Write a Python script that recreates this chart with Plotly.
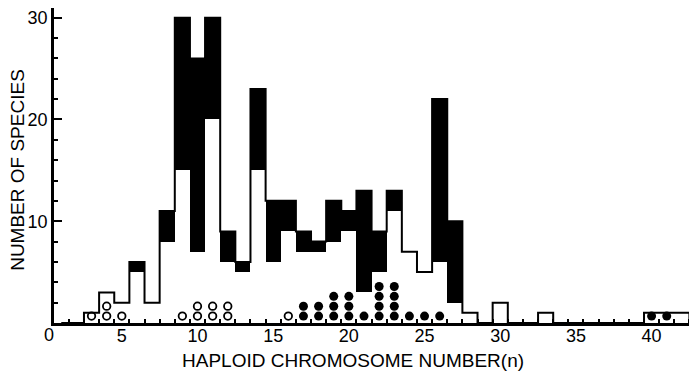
import plotly.graph_objects as go

# Haploid chromosome number bins (n) and species counts
n_values = list(range(1, 44))
# open (white) part of each bar
white_counts = {3: 1, 4: 3, 5: 2, 6: 5, 7: 2, 8: 8, 9: 15, 10: 7, 11: 20, 12: 6,
                13: 5, 14: 15, 15: 6, 16: 9, 17: 7, 18: 7, 19: 8, 20: 9, 21: 3,
                22: 5, 23: 11, 24: 7, 25: 5, 26: 6, 27: 2, 28: 1, 30: 2, 33: 1,
                40: 1, 41: 1, 42: 1}
# black part stacked on top of the open part
black_counts = {6: 1, 8: 3, 9: 15, 10: 19, 11: 10, 12: 3, 13: 1, 14: 8, 15: 6,
                16: 3, 17: 2, 18: 1, 19: 4, 20: 2, 21: 10, 22: 4, 23: 2, 26: 16,
                27: 8}
# symbols below the bars: counts of open and filled circles per n
open_circles = {3: 1, 4: 2, 5: 1, 9: 1, 10: 2, 11: 2, 12: 2, 16: 1}
filled_circles = {17: 2, 18: 2, 19: 3, 20: 3, 21: 1, 22: 4, 23: 4, 24: 1,
                  25: 1, 26: 1, 40: 1, 41: 1}
x_tick_values = [5, 10, 15, 20, 25, 30, 35, 40]
y_tick_values = [10, 20, 30]

FONT = "Liberation Sans, Arial, sans-serif"

white = [white_counts.get(n, 0) for n in n_values]
black = [black_counts.get(n, 0) for n in n_values]
total = [w + b for w, b in zip(white, black)]

def stack(counts):
    xs, ys = [], []
    for n, c in counts.items():
        for k in range(c):
            xs.append(n)
            ys.append(0.68 + 0.97 * k)
    return xs, ys

ox, oy = stack(open_circles)
fx, fy = stack(filled_circles)

fig = go.Figure()
fig.add_trace(go.Bar(x=n_values, y=black, base=white, width=1.0,
                     marker=dict(color="black", line=dict(width=0)),
                     showlegend=False, hoverinfo="skip"))
fig.add_trace(go.Scatter(x=n_values, y=total, mode="lines",
                         line=dict(color="black", width=2, shape="hvh"),
                         showlegend=False, hoverinfo="skip"))
fig.add_trace(go.Scatter(x=ox, y=oy, mode="markers",
                         marker=dict(symbol="circle-open", size=7.5, color="black",
                                     line=dict(width=1.8, color="black")),
                         showlegend=False))
fig.add_trace(go.Scatter(x=fx, y=fy, mode="markers",
                         marker=dict(symbol="circle", size=9, color="black"),
                         showlegend=False))

# the page body has an 8px margin, so the figure is sized to fill the rest
fig.update_layout(
    width=689, height=366,
    margin=dict(l=46, r=0, t=0, b=51),
    paper_bgcolor="white", plot_bgcolor="white",
    bargap=0,
    font=dict(family=FONT, size=18, color="black"),
    xaxis=dict(range=[0.52, 43.0], automargin=False, showline=True, linewidth=2.5,
               linecolor="black", showgrid=False, zeroline=False, tickmode="array",
               tickvals=x_tick_values, ticktext=[str(v) for v in x_tick_values],
               ticks="", tickfont=dict(size=18), ticklabelstandoff=-5,
               ticklabeloverflow="allow",
               minor=dict(tick0=0.5, dtick=1, ticks="inside", ticklen=4,
                          tickwidth=1.5, tickcolor="black", showgrid=False)),
    yaxis=dict(range=[0, 30.95], automargin=False, showline=True, linewidth=2.5,
               linecolor="black", showgrid=False, zeroline=False, tickmode="array",
               tickvals=y_tick_values, ticktext=[str(v) for v in y_tick_values],
               ticks="inside", ticklen=8, tickwidth=2, tickcolor="black",
               tickfont=dict(size=18), ticklabeloverflow="allow",
               minor=dict(dtick=2, ticks="inside", ticklen=4, tickwidth=1.5,
                          tickcolor="black", showgrid=False)),
    annotations=[
        dict(text="0", xref="paper", x=0, xshift=-5, yref="paper", y=0,
             xanchor="center", yanchor="middle", yshift=-12, showarrow=False,
             font=dict(size=18)),
        dict(text="NUMBER OF SPECIES", textangle=-90, xref="paper", x=0,
             xshift=-36.5, yref="y", y=15, xanchor="center", yanchor="middle",
             showarrow=False, font=dict(size=19)),
        dict(text="HAPLOID CHROMOSOME NUMBER(n)", xref="x", x=20.3,
             yref="paper", y=0, yshift=-37, xanchor="center", yanchor="middle",
             showarrow=False, font=dict(size=19)),
    ],
)

fig.write_html("out.html")
